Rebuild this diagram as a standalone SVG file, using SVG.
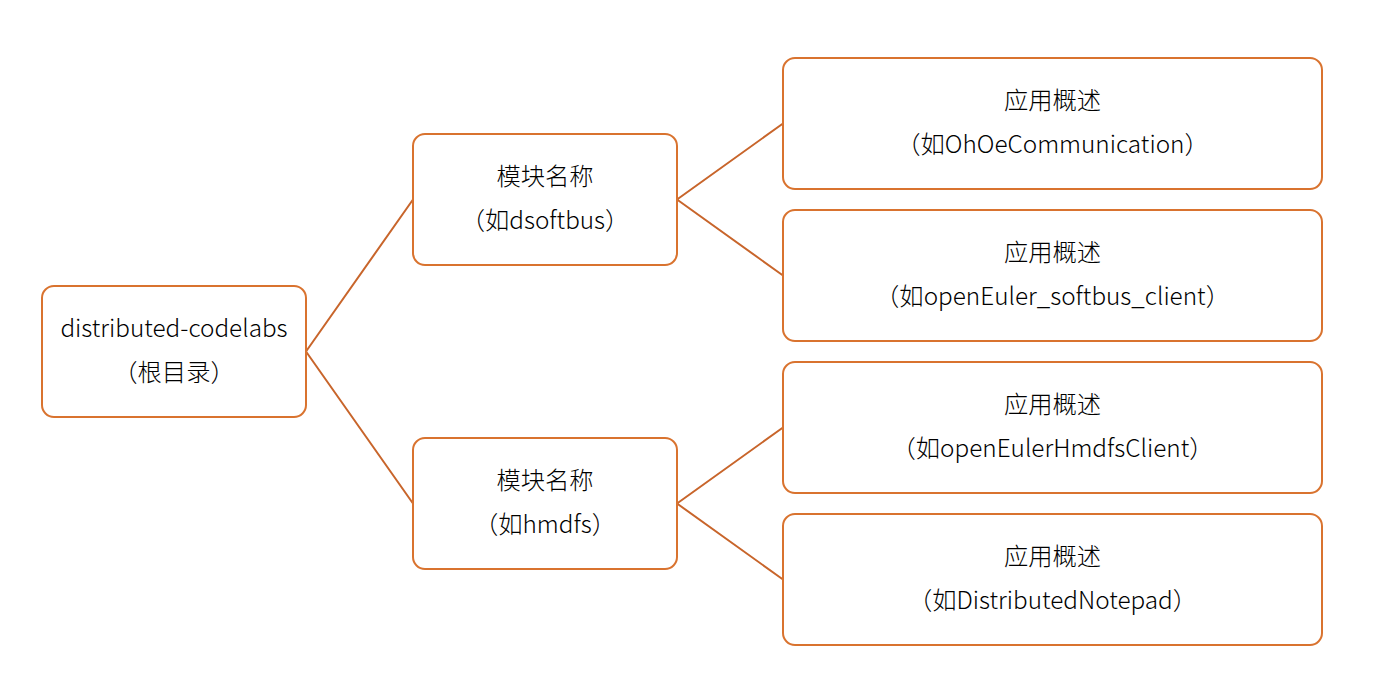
<svg xmlns="http://www.w3.org/2000/svg" width="1373" height="691" viewBox="0 0 1373 691">
<style>
.box{fill:#fff;stroke:#D9732F;stroke-width:2}
.t{font-family:"Noto Sans CJK SC","Noto Sans",sans-serif;font-size:24.3px;font-weight:300;fill:#000;text-anchor:middle}
.c{stroke:#C8652B;stroke-width:2;fill:none}
</style>
<rect width="1373" height="691" fill="#fff"/>
<g id="connectors">
<path class="c" d="M306,351.5 L413,199.5 M306,351.5 L413,503.5"/>
<path class="c" d="M677,199.5 L783,123.5 M677,199.5 L783,275.5"/>
<path class="c" d="M677,503.5 L783,427.5 M677,503.5 L783,579.5"/>
</g>
<g id="root">
<rect class="box" x="42" y="286" width="264" height="131" rx="12"/>
<text class="t" x="174" y="337">distributed-codelabs</text>
<text class="t" x="174" y="381">（根目录）</text>
</g>
<g id="mod1">
<rect class="box" x="413" y="134" width="264" height="131" rx="12"/>
<text class="t" x="545" y="185">模块名称</text>
<text class="t" x="545" y="229">（如dsoftbus）</text>
</g>
<g id="mod2">
<rect class="box" x="413" y="438" width="264" height="131" rx="12"/>
<text class="t" x="545" y="489">模块名称</text>
<text class="t" x="545" y="533">（如hmdfs）</text>
</g>
<g id="app1">
<rect class="box" x="783" y="58" width="539" height="131" rx="12"/>
<text class="t" x="1052.5" y="109">应用概述</text>
<text class="t" x="1052.5" y="153">（如OhOeCommunication）</text>
</g>
<g id="app2">
<rect class="box" x="783" y="210" width="539" height="131" rx="12"/>
<text class="t" x="1052.5" y="261">应用概述</text>
<text class="t" x="1052.5" y="305">（如openEuler_softbus_client）</text>
</g>
<g id="app3">
<rect class="box" x="783" y="362" width="539" height="131" rx="12"/>
<text class="t" x="1052.5" y="413">应用概述</text>
<text class="t" x="1052.5" y="457">（如openEulerHmdfsClient）</text>
</g>
<g id="app4">
<rect class="box" x="783" y="514" width="539" height="131" rx="12"/>
<text class="t" x="1052.5" y="565">应用概述</text>
<text class="t" x="1052.5" y="609">（如DistributedNotepad）</text>
</g>
</svg>
